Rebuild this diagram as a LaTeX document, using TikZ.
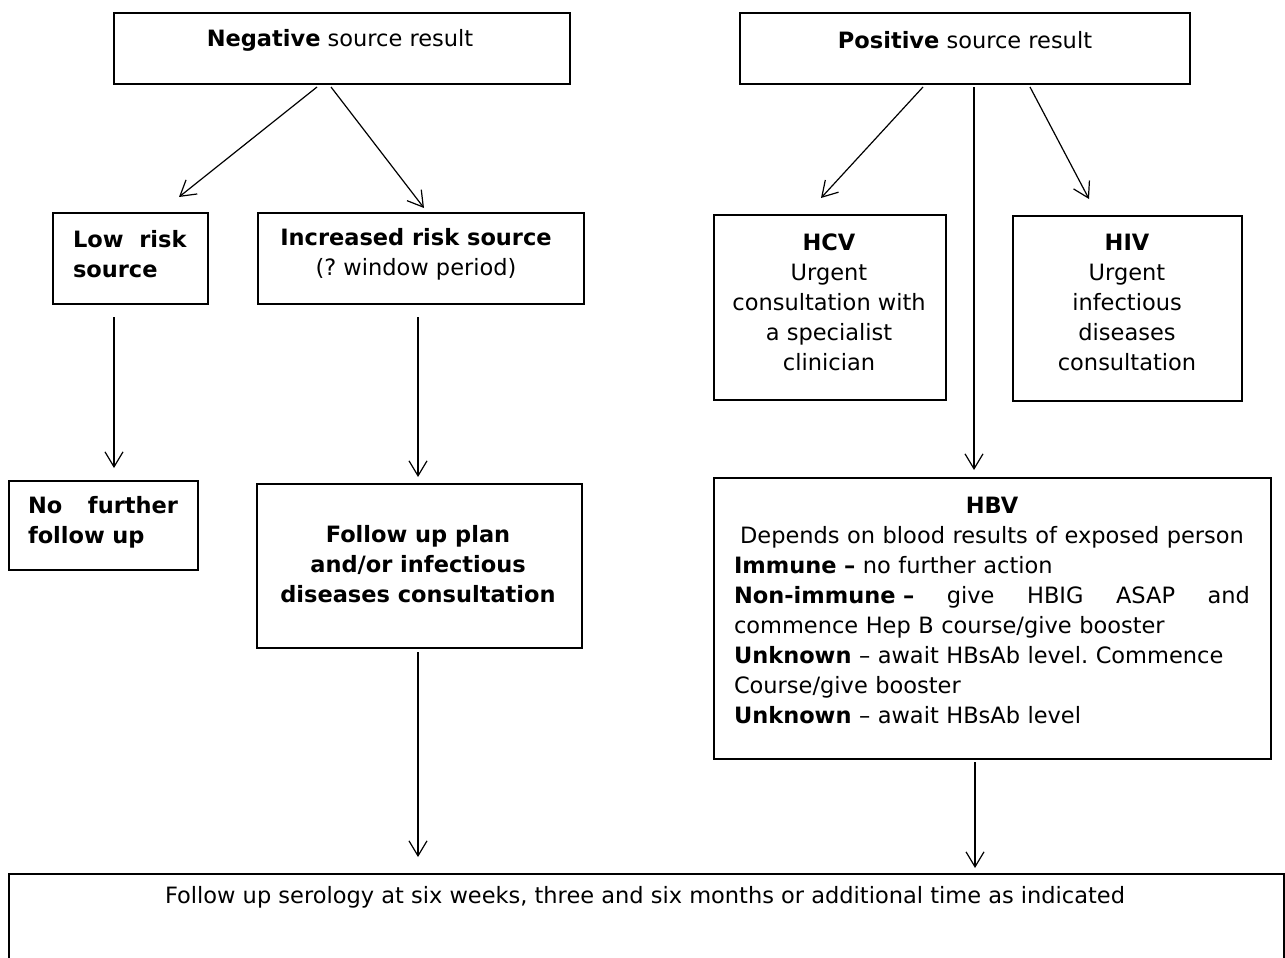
\documentclass[tikz,border=0pt]{standalone}
\usepackage{fontspec}
\setmainfont{DejaVu Sans}
\usetikzlibrary{arrows.meta}
\newcommand{\fillline}[2]{\leavevmode\hbox to #1{#2}}
\frenchspacing
\begin{document}
\frenchspacing
\begin{tikzpicture}[x=1pt,y=-1pt,
  box/.style={draw, line width=1.6pt, inner sep=0pt, anchor=north west},
  txt/.style={inner sep=0pt, font=\fontsize{22.5}{30}\selectfont\frenchspacing, align=center},
  arr/.style={line width=1.2pt, -{Straight Barb[length=15pt,width=18pt,line width=1.2pt]}},
]
\clip (0,0) rectangle (1285,958);
\fill[white] (0,0) rectangle (1285,958);

% boxes
\node[box, minimum width=456pt, minimum height=71pt] (neg) at (113,12) {};
\node[box, minimum width=450pt, minimum height=71pt] (pos) at (739,12) {};
\node[box, minimum width=155pt, minimum height=91pt] (low) at (52,212) {};
\node[box, minimum width=326pt, minimum height=91pt] (inc) at (257,212) {};
\node[box, minimum width=232pt, minimum height=185pt] (hcv) at (713,214) {};
\node[box, minimum width=229pt, minimum height=185pt] (hiv) at (1012,215) {};
\node[box, minimum width=189pt, minimum height=89pt] (nof) at (8,480) {};
\node[box, minimum width=325pt, minimum height=164pt] (fup) at (256,483) {};
\node[box, minimum width=557pt, minimum height=281pt] (hbv) at (713,477) {};
\node[box, minimum width=1275pt, minimum height=150pt] (ser) at (8,873) {};

% texts
\node[txt] (negT) at (340,40) {\textbf{Negative} source result};
\node[txt] (posT) at (965,40) {\textbf{Positive} source result};
\node[txt, text width=114pt, align=left] (lowT) at (130,254)
  {\fillline{114pt}{\textbf{Low}\hfill\textbf{risk}}\\\textbf{source}};
\node[txt] (incT) at (416,254) {\textbf{Increased risk source}\\(? window period)};
\node[txt] (hcvT) at (829,302) {\textbf{HCV}\\Urgent\\consultation with\\a specialist\\clinician};
\node[txt] (hivT) at (1127,302) {\textbf{HIV}\\Urgent\\infectious\\diseases\\consultation};
\node[txt, text width=150pt, align=left] (nofT) at (103,522)
  {\fillline{150pt}{\textbf{No}\hfill\textbf{further}}\\\textbf{follow up}};
\node[txt, font=\fontsize{22.5}{30}\selectfont\bfseries] (fupT) at (418,564)
  {Follow up plan\\and/or infectious\\diseases consultation};
\node[txt, text width=516pt, align=left] (hbvT) at (992,610)
  {\fillline{516pt}{\hfill\textbf{HBV}\hfill}\\
   \fillline{516pt}{\hfill Depends on blood results of exposed person\hfill}\\
   \textbf{Immune –} no further action\\
   \fillline{516pt}{\textbf{Non-immune –}\hfill give\hfill HBIG\hfill ASAP\hfill and}\\
   commence Hep B course/give booster\\
   \textbf{Unknown} – await HBsAb level. Commence\\
   Course/give booster\\
   \textbf{Unknown} – await HBsAb level};
\node[txt] (serT) at (645,897)
  {Follow up serology at six weeks, three and six months or additional time as indicated};

% connector end points
\coordinate (n1) at (317,87);   \coordinate (n1e) at (179,197);
\coordinate (n2) at (331,87);   \coordinate (n2e) at (424,208);
\coordinate (l1) at (114,317);  \coordinate (l1e) at (114,468);
\coordinate (i1) at (418,317);  \coordinate (i1e) at (418,477);
\coordinate (f1) at (418,652);  \coordinate (f1e) at (418,857);
\coordinate (p1) at (923,87);   \coordinate (p1e) at (821,198);
\coordinate (p2) at (974,87);   \coordinate (p2e) at (974,470);
\coordinate (p3) at (1030,87);  \coordinate (p3e) at (1089,199);
\coordinate (h1) at (975,762);  \coordinate (h1e) at (975,868);

\draw[arr] (n1) -- (n1e);
\draw[arr] (n2) -- (n2e);
\draw[arr] (l1) -- (l1e);
\draw[arr] (i1) -- (i1e);
\draw[arr] (f1) -- (f1e);
\draw[arr] (p1) -- (p1e);
\draw[arr] (p2) -- (p2e);
\draw[arr] (p3) -- (p3e);
\draw[arr] (h1) -- (h1e);
\end{tikzpicture}
\end{document}
